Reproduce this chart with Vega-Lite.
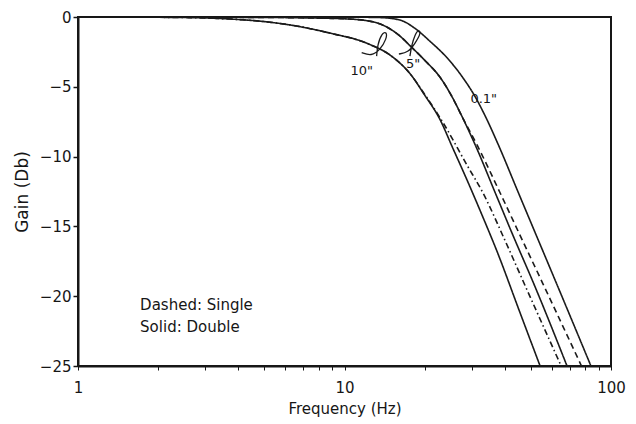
{
  "$schema": "https://vega.github.io/schema/vega-lite/v6.json",
  "autosize": {"type": "none"},
  "width": 533,
  "height": 349,
  "padding": {"left": 78, "top": 17, "right": 25, "bottom": 58},
  "background": "white",
  "config": {
    "view": {"stroke": "#161616", "strokeWidth": 2},
    "font": "DejaVu Sans"
  },
  "datasets": {
    "curves": [
      {"series": "10in double", "style": "solid", "f": 1, "db": 0},
      {"series": "10in double", "style": "solid", "f": 2, "db": -0.02},
      {"series": "10in double", "style": "solid", "f": 3, "db": -0.07},
      {"series": "10in double", "style": "solid", "f": 4, "db": -0.18},
      {"series": "10in double", "style": "solid", "f": 5, "db": -0.33},
      {"series": "10in double", "style": "solid", "f": 6.8, "db": -0.69},
      {"series": "10in double", "style": "solid", "f": 8.8, "db": -1.15},
      {"series": "10in double", "style": "solid", "f": 12.2, "db": -1.9},
      {"series": "10in double", "style": "solid", "f": 15, "db": -2.8},
      {"series": "10in double", "style": "solid", "f": 17.6, "db": -4.05},
      {"series": "10in double", "style": "solid", "f": 20, "db": -5.6},
      {"series": "10in double", "style": "solid", "f": 22.8, "db": -7.33},
      {"series": "10in double", "style": "solid", "f": 25.5, "db": -9.4},
      {"series": "10in double", "style": "solid", "f": 28.8, "db": -11.66},
      {"series": "10in double", "style": "solid", "f": 33, "db": -14.3},
      {"series": "10in double", "style": "solid", "f": 37.3, "db": -16.76},
      {"series": "10in double", "style": "solid", "f": 45.5, "db": -21.15},
      {"series": "10in double", "style": "solid", "f": 54.2, "db": -25},

      {"series": "10in single", "style": "dashdot", "f": 1, "db": 0},
      {"series": "10in single", "style": "dashdot", "f": 2, "db": -0.02},
      {"series": "10in single", "style": "dashdot", "f": 3, "db": -0.07},
      {"series": "10in single", "style": "dashdot", "f": 4, "db": -0.18},
      {"series": "10in single", "style": "dashdot", "f": 5, "db": -0.33},
      {"series": "10in single", "style": "dashdot", "f": 6.8, "db": -0.69},
      {"series": "10in single", "style": "dashdot", "f": 8.8, "db": -1.15},
      {"series": "10in single", "style": "dashdot", "f": 12.2, "db": -1.9},
      {"series": "10in single", "style": "dashdot", "f": 15, "db": -2.8},
      {"series": "10in single", "style": "dashdot", "f": 17.6, "db": -4.05},
      {"series": "10in single", "style": "dashdot", "f": 20, "db": -5.55},
      {"series": "10in single", "style": "dashdot", "f": 23.4, "db": -7.55},
      {"series": "10in single", "style": "dashdot", "f": 28.8, "db": -10.6},
      {"series": "10in single", "style": "dashdot", "f": 33.1, "db": -12.61},
      {"series": "10in single", "style": "dashdot", "f": 40, "db": -16.0},
      {"series": "10in single", "style": "dashdot", "f": 47.4, "db": -19.16},
      {"series": "10in single", "style": "dashdot", "f": 65, "db": -25},

      {"series": "5in double", "style": "solid", "f": 1, "db": 0},
      {"series": "5in double", "style": "solid", "f": 5, "db": -0.03},
      {"series": "5in double", "style": "solid", "f": 8, "db": -0.08},
      {"series": "5in double", "style": "solid", "f": 10, "db": -0.13},
      {"series": "5in double", "style": "solid", "f": 12, "db": -0.25},
      {"series": "5in double", "style": "solid", "f": 14, "db": -0.6},
      {"series": "5in double", "style": "solid", "f": 16, "db": -1.3},
      {"series": "5in double", "style": "solid", "f": 17.6, "db": -2.05},
      {"series": "5in double", "style": "solid", "f": 20, "db": -3.1},
      {"series": "5in double", "style": "solid", "f": 22.8, "db": -4.3},
      {"series": "5in double", "style": "solid", "f": 25.3, "db": -5.7},
      {"series": "5in double", "style": "solid", "f": 27.8, "db": -7.25},
      {"series": "5in double", "style": "solid", "f": 31, "db": -9.2},
      {"series": "5in double", "style": "solid", "f": 36.7, "db": -12.55},
      {"series": "5in double", "style": "solid", "f": 43, "db": -15.7},
      {"series": "5in double", "style": "solid", "f": 51.3, "db": -19.1},
      {"series": "5in double", "style": "solid", "f": 68.4, "db": -25},

      {"series": "5in single", "style": "dashed", "f": 1, "db": 0},
      {"series": "5in single", "style": "dashed", "f": 5, "db": -0.03},
      {"series": "5in single", "style": "dashed", "f": 8, "db": -0.08},
      {"series": "5in single", "style": "dashed", "f": 10, "db": -0.13},
      {"series": "5in single", "style": "dashed", "f": 12, "db": -0.25},
      {"series": "5in single", "style": "dashed", "f": 14, "db": -0.6},
      {"series": "5in single", "style": "dashed", "f": 16, "db": -1.3},
      {"series": "5in single", "style": "dashed", "f": 17.6, "db": -2.05},
      {"series": "5in single", "style": "dashed", "f": 20, "db": -3.1},
      {"series": "5in single", "style": "dashed", "f": 22.8, "db": -4.3},
      {"series": "5in single", "style": "dashed", "f": 25.3, "db": -5.7},
      {"series": "5in single", "style": "dashed", "f": 27.8, "db": -7.25},
      {"series": "5in single", "style": "dashed", "f": 31.5, "db": -9.2},
      {"series": "5in single", "style": "dashed", "f": 38.3, "db": -12.57},
      {"series": "5in single", "style": "dashed", "f": 46, "db": -15.8},
      {"series": "5in single", "style": "dashed", "f": 55.6, "db": -19.13},
      {"series": "5in single", "style": "dashed", "f": 77.5, "db": -25},

      {"series": "0.1in double", "style": "solid", "f": 1, "db": 0},
      {"series": "0.1in double", "style": "solid", "f": 10, "db": -0.01},
      {"series": "0.1in double", "style": "solid", "f": 13.6, "db": -0.04},
      {"series": "0.1in double", "style": "solid", "f": 16.15, "db": -0.22},
      {"series": "0.1in double", "style": "solid", "f": 18.4, "db": -0.82},
      {"series": "0.1in double", "style": "solid", "f": 20.9, "db": -1.73},
      {"series": "0.1in double", "style": "solid", "f": 24.25, "db": -2.92},
      {"series": "0.1in double", "style": "solid", "f": 27.6, "db": -4.26},
      {"series": "0.1in double", "style": "solid", "f": 30.9, "db": -5.7},
      {"series": "0.1in double", "style": "solid", "f": 33.96, "db": -7.21},
      {"series": "0.1in double", "style": "solid", "f": 37.67, "db": -9.1},
      {"series": "0.1in double", "style": "solid", "f": 44.77, "db": -12.52},
      {"series": "0.1in double", "style": "solid", "f": 66.6, "db": -20.36},
      {"series": "0.1in double", "style": "solid", "f": 84.1, "db": -25}
    ],
    "loops": [
      {"pair": "10in", "i": 1, "f": 11.6, "db": -2.55},
      {"pair": "10in", "i": 2, "f": 12.6, "db": -2.8},
      {"pair": "10in", "i": 3, "f": 13.59, "db": -2.37},
      {"pair": "10in", "i": 4, "f": 14.4, "db": -1.55},
      {"pair": "10in", "i": 5, "f": 14.4, "db": -1.05},
      {"pair": "10in", "i": 6, "f": 13.8, "db": -1.15},
      {"pair": "10in", "i": 7, "f": 13.3, "db": -2.0},
      {"pair": "10in", "i": 8, "f": 13.2, "db": -2.8},
      {"pair": "5in", "i": 1, "f": 16.0, "db": -2.65},
      {"pair": "5in", "i": 2, "f": 17.3, "db": -2.55},
      {"pair": "5in", "i": 3, "f": 18.39, "db": -1.9},
      {"pair": "5in", "i": 4, "f": 19.4, "db": -1.15},
      {"pair": "5in", "i": 5, "f": 18.95, "db": -0.9},
      {"pair": "5in", "i": 6, "f": 18.39, "db": -1.25},
      {"pair": "5in", "i": 7, "f": 17.87, "db": -2.02},
      {"pair": "5in", "i": 8, "f": 17.6, "db": -2.8}
    ],
    "labels": [
      {"text": "10\"", "f": 11.6, "db": -3.9, "align": "center"},
      {"text": "5\"", "f": 18.1, "db": -3.35, "align": "center"},
      {"text": "0.1\"", "f": 33.3, "db": -5.9, "align": "left"}
    ],
    "notes": [
      {"text": "Dashed: Single", "f": 1.71, "db": -20.63},
      {"text": "Solid: Double", "f": 1.71, "db": -22.2}
    ]
  },
  "layer": [
    {
      "data": {"name": "curves"},
      "mark": {"type": "line", "interpolate": "monotone", "strokeWidth": 1.6, "color": "#1a1a1a", "clip": true},
      "encoding": {
        "x": {
          "field": "f", "type": "quantitative",
          "scale": {"type": "log", "domain": [1, 100]},
          "axis": {
            "title": "Frequency (Hz)",
            "values": [1, 2, 3, 4, 5, 6, 7, 8, 9, 10, 20, 30, 40, 50, 60, 70, 80, 90, 100],
            "labelExpr": "datum.value == 1 || datum.value == 10 || datum.value == 100 ? format(datum.value, 'd') : ''",
            "grid": false,
            "domainColor": "#161616", "domainWidth": 2,
            "tickColor": "#161616", "tickSize": 4, "tickWidth": 1,
            "labelFontSize": 15, "labelColor": "#161616", "labelPadding": 10,
            "labelFlush": false,
            "titleFontSize": 15, "titleFontWeight": "normal", "titleColor": "#161616", "titlePadding": 6
          }
        },
        "y": {
          "field": "db", "type": "quantitative",
          "scale": {"domain": [-25, 0], "nice": false, "zero": false},
          "axis": {
            "title": "Gain (Db)",
            "values": [0, -5, -10, -15, -20, -25],
            "grid": false,
            "domainColor": "#161616", "domainWidth": 2,
            "tickColor": "#161616", "tickSize": 5, "tickWidth": 1.5,
            "labelFontSize": 15, "labelColor": "#161616", "labelPadding": 2,
            "labelFlush": false,
            "titleFontSize": 17, "titleFontWeight": "normal", "titleColor": "#161616", "titlePadding": 8
          }
        },
        "detail": {"field": "series", "type": "nominal"},
        "strokeDash": {
          "field": "style", "type": "nominal",
          "scale": {"domain": ["solid", "dashdot", "dashed"], "range": [[1, 0], [6, 3, 1.5, 3], [6, 4]]},
          "legend": null
        }
      }
    },
    {
      "data": {"name": "loops"},
      "mark": {"type": "line", "interpolate": "basis", "strokeWidth": 1.3, "color": "#1a1a1a"},
      "encoding": {
        "x": {"field": "f", "type": "quantitative"},
        "y": {"field": "db", "type": "quantitative"},
        "detail": {"field": "pair", "type": "nominal"},
        "order": {"field": "i", "type": "quantitative"}
      }
    },
    {
      "data": {"name": "labels"},
      "mark": {"type": "text", "fontSize": 13, "color": "#161616", "baseline": "middle"},
      "encoding": {
        "x": {"field": "f", "type": "quantitative"},
        "y": {"field": "db", "type": "quantitative"},
        "text": {"field": "text"},
        "align": {"field": "align", "type": "nominal", "scale": null}
      }
    },
    {
      "data": {"name": "notes"},
      "mark": {"type": "text", "fontSize": 15, "color": "#161616", "align": "left", "baseline": "middle"},
      "encoding": {
        "x": {"field": "f", "type": "quantitative"},
        "y": {"field": "db", "type": "quantitative"},
        "text": {"field": "text"}
      }
    }
  ]
}
